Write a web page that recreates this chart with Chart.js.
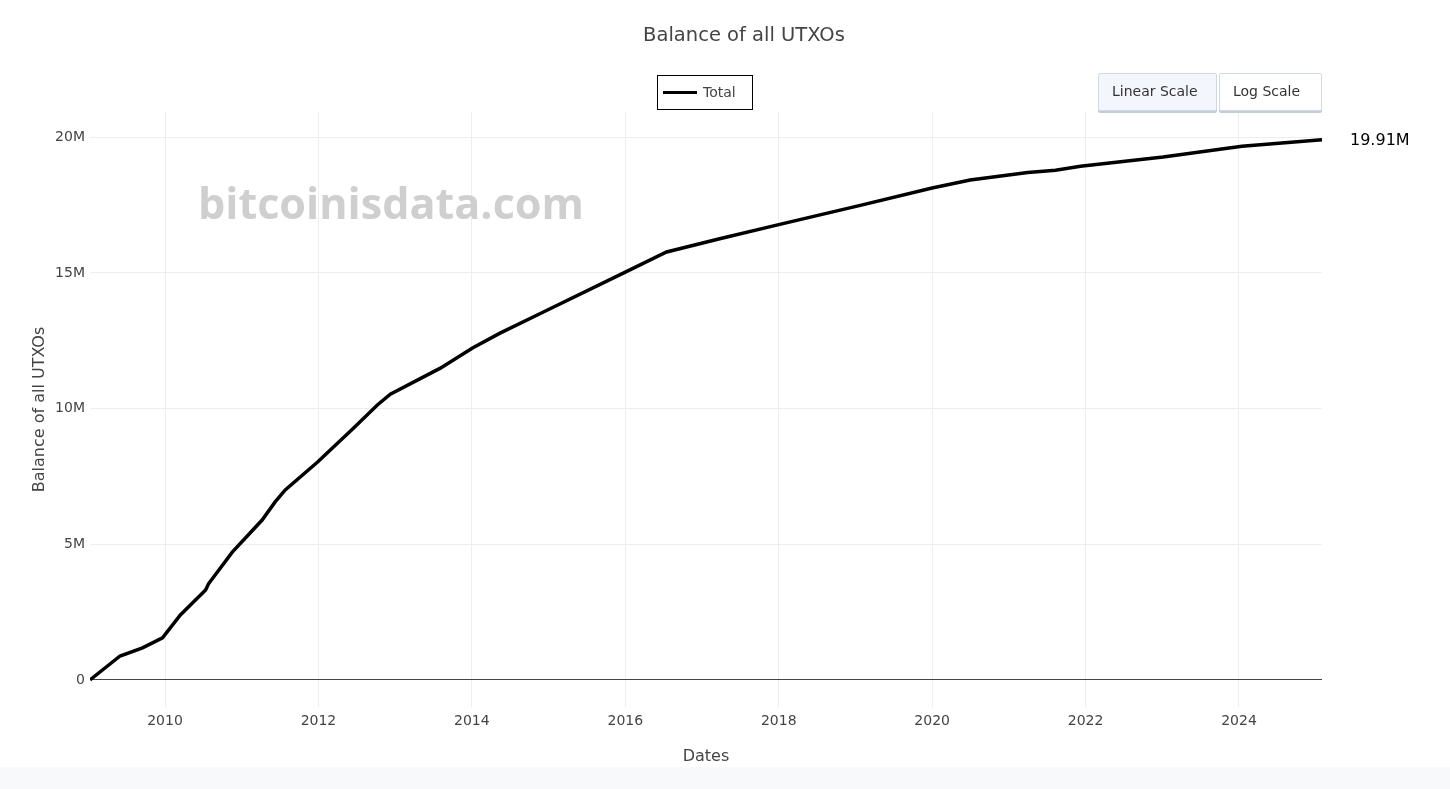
<!DOCTYPE html>
<html>
<head>
<meta charset="utf-8">
<script src="https://cdn.jsdelivr.net/npm/chart.js@4.4.1/dist/chart.umd.min.js"></script>
<style>
html,body{margin:0;padding:0;background:#fff;width:1450px;height:789px;overflow:hidden;font-family:"DejaVu Sans",Verdana,sans-serif;}
#wrap{position:absolute;left:0;top:0;width:1450px;height:767px;}
#footer{position:absolute;left:0;top:767px;width:1450px;height:22px;background:#f8f9fa;}
#title{position:absolute;top:23px;left:744px;transform:translateX(-50%);font-size:19.5px;color:#444;white-space:nowrap;line-height:24px;}
#legend{position:absolute;left:657px;top:75px;width:96px;height:35px;box-sizing:border-box;border:1.3px solid #000;background:#fff;}
#legend .ln{position:absolute;left:5px;top:14.5px;width:34px;height:3.5px;background:#000;}
#legend .tx{position:absolute;left:45px;top:7px;font-size:14px;color:#444;line-height:18px;}
.btn{position:absolute;top:73px;height:38px;box-sizing:border-box;border:1px solid #d3d9e2;border-radius:2px;box-shadow:0 2px 0 #c4ccd8;font-size:14px;color:#333;line-height:35px;padding-left:13px;}
#b1{left:1098px;width:119px;background:#f3f7fd;}
#b2{left:1219px;width:103px;background:#fff;}
</style>
</head>
<body>
<div id="wrap"><canvas id="c" width="1450" height="767"></canvas></div>
<div id="footer"></div>
<div id="title">Balance of all UTXOs</div>
<div id="legend"><span class="ln"></span><span class="tx">Total</span></div>
<div class="btn" id="b1">Linear Scale</div>
<div class="btn" id="b2">Log Scale</div>
<script>
// ---- data ----
const dates = ["2009-01-09","2009-06-01","2009-09-16","2009-12-20","2010-03-15","2010-07-13","2010-07-27","2010-11-17",
  "2011-04-08","2011-06-09","2011-07-27","2011-12-28","2012-06-17","2012-10-08","2012-12-09","2013-08-04",
  "2014-01-04","2014-05-15","2014-12-05","2016-01-01","2016-07-16","2017-03-26","2018-01-01","2019-01-24",
  "2020-01-01","2020-06-30","2021-04-01","2021-08-11","2021-12-08","2023-01-05","2024-01-15","2025-01-31"];
const totalMillions = [0,0.88,1.18,1.55,2.39,3.31,3.54,4.71,
  5.89,6.56,7.0,8.03,9.28,10.13,10.53,11.49,
  12.23,12.78,13.55,15.03,15.77,16.26,16.78,17.49,
  18.13,18.42,18.7,18.78,18.93,19.27,19.67,19.91];
const xTickYears = [2010,2012,2014,2016,2018,2020,2022,2024];
const yTickValues = [0,5e6,10e6,15e6,20e6];
const seriesName = "Total";
const watermarkText = "bitcoinisdata.com";

function toYear(d){
  const t = new Date(d + "T00:00:00Z");
  const y = t.getUTCFullYear();
  const s = Date.UTC(y,0,1), e = Date.UTC(y+1,0,1);
  return y + (t - s)/(e - s);
}
const points = dates.map((d,i)=>({x: toYear(d), y: totalMillions[i]*1e6}));

const watermark = {
  id:'watermark',
  beforeDatasetsDraw(chart){
    const ctx = chart.ctx;
    ctx.save();
    let size = 48;
    ctx.font = "bold " + size + "px 'Open Sans', sans-serif";
    const w = ctx.measureText(watermarkText).width;
    size = size * 386 / w;
    ctx.font = "bold " + size + "px 'Open Sans', sans-serif";
    ctx.fillStyle = "#cfcfcf";
    ctx.textBaseline = "middle";
    ctx.textAlign = "left";
    ctx.fillText(watermarkText, 198, 207);
    ctx.restore();
  }
};
const lastLabel = {
  id:'lastLabel',
  afterDatasetsDraw(chart){
    const meta = chart.getDatasetMeta(0);
    const el = meta.data[meta.data.length-1];
    const v = chart.data.datasets[0].data[meta.data.length-1].y;
    const ctx = chart.ctx;
    ctx.save();
    ctx.font = "16px 'DejaVu Sans', sans-serif";
    ctx.fillStyle = "#000";
    ctx.textBaseline = "middle";
    ctx.textAlign = "left";
    ctx.fillText((v/1e6).toFixed(2) + "M", el.x + 28, el.y + 1);
    ctx.restore();
  }
};

Chart.defaults.font.family = "'DejaVu Sans', Verdana, sans-serif";
Chart.defaults.color = "#444";

new Chart(document.getElementById('c'), {
  type:'line',
  data:{datasets:[{label:seriesName,data:points,borderColor:'#000',backgroundColor:'#000',borderWidth:3.5,pointRadius:0,tension:0,fill:false}]},
  options:{
    responsive:false,
    animation:false,
    devicePixelRatio:1,
    layout:{padding:{top:112,right:128,left:0,bottom:0}},
    plugins:{legend:{display:false},title:{display:false},tooltip:{enabled:false}},
    scales:{
      x:{
        type:'linear',
        min: points[0].x, max: points[points.length-1].x,
        afterBuildTicks: s => { s.ticks = xTickYears.map(v=>({value:v})); },
        afterFit: s => { s.height = 60; },
        grid:{color:'#eeeeee',drawTicks:false},
        border:{display:false},
        ticks:{font:{size:14},color:'#444',padding:6,maxRotation:0,autoSkip:false,callback:v=>String(v)},
        title:{display:true,text:'Dates',font:{size:16},color:'#444',padding:{top:0,bottom:1}}
      },
      y:{
        type:'linear',
        min:-1e6, max:20.93e6,
        afterBuildTicks: s => { s.ticks = yTickValues.map(v=>({value:v})); },
        afterFit: s => { s.width = 90; },
        grid:{color: c => (c.tick && c.tick.value === 0) ? '#444' : '#eeeeee', drawTicks:false},
        border:{display:false},
        ticks:{font:{size:14},color:'#444',padding:5,callback:v => v===0 ? '0' : (v/1e6)+'M'},
        title:{display:true,text:'Balance of all UTXOs',font:{size:16},color:'#444',padding:{top:30,bottom:0}}
      }
    }
  },
  plugins:[watermark,lastLabel]
});
</script>
</body>
</html>
